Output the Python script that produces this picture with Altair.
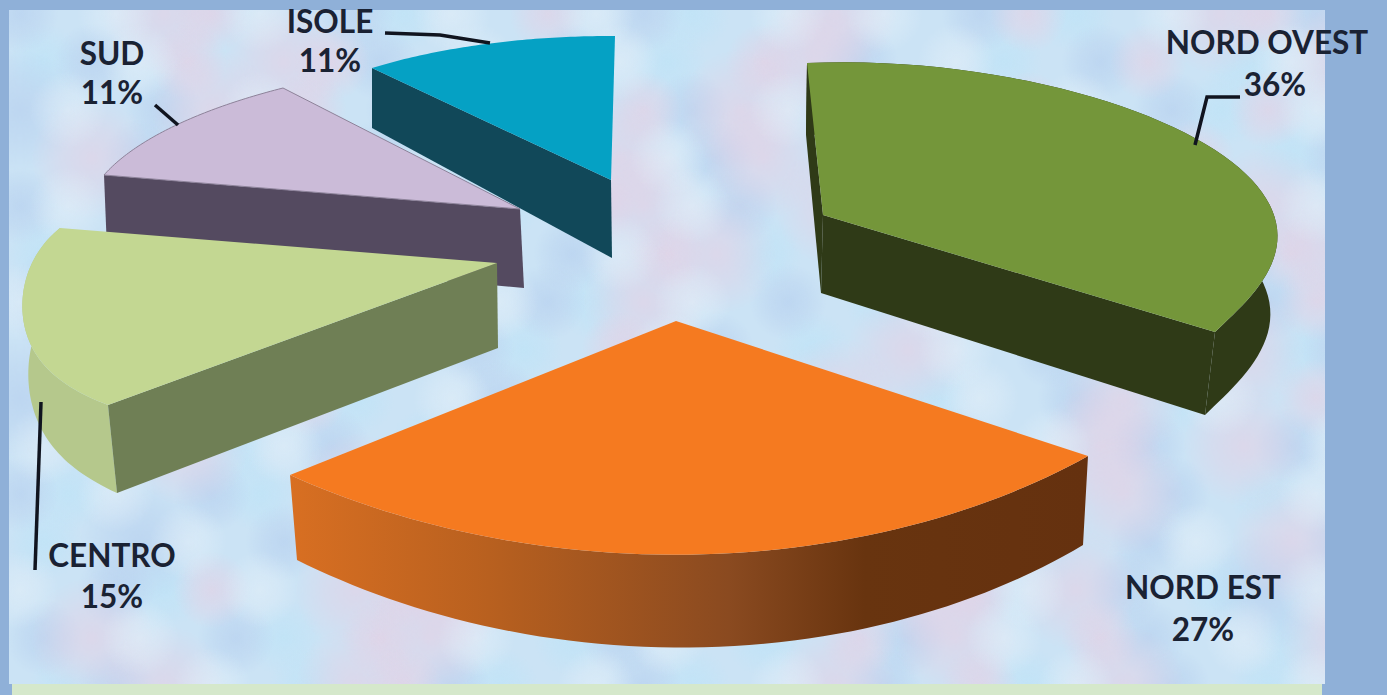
import numpy as np
import altair as alt

# Regional shares, in percent
regions = ["NORD OVEST", "NORD EST", "CENTRO", "SUD", "ISOLE"]
shares = [36, 27, 15, 11, 11]

W, H = 1387, 695

# Slice placement on the canvas: apex, arc ends, extrusion at those points
geometry = {
    "NORD OVEST": dict(p=(823, 215), a=(807, 63), b=(1215, 332), dp=(-2, 78), da=(-1, 72), db=(-10, 83), bulge=(0, 0)),
    "NORD EST": dict(p=(676, 321), a=(1088, 456), b=(290, 475), dp=(0, 85), da=(-5, 89), db=(7, 85), bulge=(0, 6)),
    "CENTRO": dict(p=(497, 263), a=(60, 228), b=(108, 405), dp=(1, 85), da=(4, 60), db=(9, 88), bulge=(0, 0)),
    "SUD": dict(p=(520, 209), a=(283, 88), b=(104, 175), dp=(4, 79), da=(3, 60), db=(3, 75), bulge=(0, 0)),
    "ISOLE": dict(p=(611, 180), a=(615, 36), b=(372, 68), dp=(1, 78), da=(0, 60), db=(0, 60), bulge=(0, 0)),
}
# Perspective correction of each arc: position along the arc, dx, dy
arc_warp = {
    "NORD OVEST": [(0, 0, 0), (0.25, -2, -9), (0.5, -22, -3), (0.8, -43, 0), (1, 0, 0)],
    "NORD EST": [(0, 0, 0), (0.25, 0, 10), (0.5, 0, 15), (0.75, 0, 9), (1, 0, 0)],
    "CENTRO": [(0, 0, 0), (0.25, -7, 0), (0.5, -9, 3), (0.75, -10, 3), (1, 0, 0)],
}
top_colors = dict(zip(regions, ["#74963a", "#f57a20", "#c3d792", "#cbbbd8", "#05a1c4"]))
face_colors = dict(zip(regions, ["#2f3a17", None, "#6f7f55", "#544a60", "#114859"]))
rim_colors = dict(zip(regions, ["#2f3a17", None, "#b5c88c", None, None]))
sliver_regions = ["NORD OVEST"]

label_pos = {
    "NORD OVEST": ((1267, 45), (1275, 87)),
    "NORD EST": ((1203, 590), (1203, 632)),
    "CENTRO": ((112, 558), (112, 599)),
    "SUD": ((112, 56), (112, 95)),
    "ISOLE": ((330, 24), (330, 63)),
}
leaders = [
    [(385, 33), (440, 35), (490, 43)],
    [(155, 105), (178, 125)],
    [(1240, 97), (1207, 97), (1195, 145)],
    [(41, 402), (35, 570)],
]

# Marbled backdrop, one letter per soft patch on a staggered 48 px lattice:
# p/P pink, b/B periwinkle, w/W white, c/C cyan; capitals are the larger patches
backdrop_rows = [
    "b.wPpw.bcw.pwbc.wPw.bpc.wPpb",
    "cbwp.Ppb.w.bwc.pPb.wc.bp.cwP",
    "Bw.bPwp.bc.w.pbPwc.b.pw.bcpw",
    ".Pbcw.pb.cw.PwbP.pcw.b.wp.cb",
    "bw.P.bcw.bc.pPwb.Pc.bw.cb.Pw",
    "c.bwP.bc.w.bwpPc.w.bp.wc.bpP",
    "wBc.pw.bc.wbcPw.b.cw.pb.w.bp",
    ".bw.cb.w.bc.pwb.c.Pw.bc.wPcb",
    "Bc.wb.pc.wb.cpw.bP.cw.bPcw.p",
    "w.bPcwb.cw.pcb.wc.pb.wPb.Pbw",
    "bcw.bc.Pw.bc.wb.Pw.cBw.Pb.cw",
    "c.Bw.b.cpPw.b.cw.bp.wc.bw.Pb",
    "w.bcpw.PpPbw.c.bwc.PpwPb.cBw",
    "bPw.bc.pPw.cbw.c.pbPw.pb.wcP",
    ".cbPw.cPpbc.wbc.wPb.pcwPb.cw",
]
patch_colors = {"p": "232,206,226", "b": "180,206,238", "w": "234,243,250", "c": "186,228,248"}
patch_lattice = 48


def backdrop_patches(letter):
    rows = []
    for r, line in enumerate(backdrop_rows):
        for c, ch in enumerate(line):
            if ch.lower() == letter:
                x = 20 + c * patch_lattice + (patch_lattice / 2 if r % 2 else 0)
                y = 14 + r * patch_lattice
                rows.append({"x": x, "y": y, "s": 15000 if ch.isupper() else 6000})
    return rows


def arc_points(name, start, sweep, n=60):
    """Points of a slice's elliptical arc, with the sweep taken from its share."""
    g = geometry[name]
    p, a, b = map(np.array, (g["p"], g["a"], g["b"]))
    t0, t1 = np.radians(start), np.radians(start + sweep)
    basis = np.array([[np.cos(t0), np.sin(t0)], [np.cos(t1), np.sin(t1)]])
    u_v = np.linalg.solve(basis, np.vstack([a - p, b - p]))
    ts = np.linspace(t0, t1, n)
    arc = p + np.column_stack([np.cos(ts), np.sin(ts)]) @ u_v
    if name in arc_warp:
        anchors = np.array(arc_warp[name], dtype=float)
        s = np.linspace(0, 1, n)
        arc[:, 0] += np.polyval(np.polyfit(anchors[:, 0], anchors[:, 1], 4), s)
        arc[:, 1] += np.polyval(np.polyfit(anchors[:, 0], anchors[:, 2], 4), s)
    return arc


def feature(points):
    ring = [[float(x), float(y)] for x, y in points]
    ring.append(ring[0])
    return {"type": "Feature", "properties": {}, "geometry": {"type": "Polygon", "coordinates": [ring]}}


def line_feature(points):
    return {"type": "Feature", "properties": {},
            "geometry": {"type": "LineString", "coordinates": [[float(x), float(y)] for x, y in points]}}


def flat(chart):
    # Identity projection: coordinates are canvas pixels
    return chart.project(type="identity", scale=1, translate=[0, 0])


def shape(points, **mark):
    mark.setdefault("strokeWidth", 0)
    return flat(alt.Chart(alt.Data(values=[feature(points)])).mark_geoshape(**mark))


def patches(letter, alpha):
    rgb = patch_colors[letter]
    fill = alt.RadialGradient(gradient="radial", stops=[
        alt.GradientStop(color=f"rgba({rgb},{alpha})", offset=0),
        alt.GradientStop(color=f"rgba({rgb},{alpha * 0.6})", offset=0.5),
        alt.GradientStop(color=f"rgba({rgb},0)", offset=1),
    ])
    return flat(
        alt.Chart(alt.Data(values=backdrop_patches(letter)))
        .mark_point(filled=True, fill=fill, opacity=1, strokeWidth=0, shape="circle")
        .encode(longitude="x:Q", latitude="y:Q", size=alt.Size("s:Q", scale=None, legend=None))
    )


frame = "#8fb0d8"
layers = [
    shape([(9, 10), (1325, 10), (1325, 684), (9, 684)], fill="#cbe3f5"),
    patches("c", 0.55),
    patches("b", 0.6),
    patches("p", 0.55),
    patches("w", 0.45),
    # The frame is drawn after the patches so that it trims them
    shape([(0, 0), (W, 0), (W, 10), (0, 10)], fill=frame),
    shape([(0, 0), (9, 0), (9, H), (0, H)], fill=frame),
    shape([(1325, 0), (W, 0), (W, H), (1325, H)], fill=frame),
    shape([(0, 684), (W, 684), (W, H), (0, H)], fill=frame),
    shape([(12, 684), (1322, 684), (1322, 695), (12, 695)], fill="#d5e8cb"),
]

# Slices are stacked back to front
start_angles = dict(zip(regions, np.cumsum([0] + shares[:-1]) * 3.6))
tops = {}
for name, share in zip(regions, shares):
    tops[name] = arc_points(name, start_angles[name], share * 3.6)

order = ["ISOLE", "SUD", "CENTRO", "NORD OVEST", "NORD EST"]
for name in order:
    g = geometry[name]
    arc = tops[name]
    p, a, b = map(np.array, (g["p"], g["a"], g["b"]))
    dp, da, db = map(np.array, (g["dp"], g["da"], g["db"]))
    s = np.linspace(0, 1, len(arc))[:, None]
    lower = arc + da + (db - da) * s + np.array(g["bulge"]) * np.sin(np.pi * s)
    rim = np.vstack([arc, lower[::-1]])
    if name == "NORD EST":
        fill = alt.LinearGradient(gradient="linear", x1=0, x2=1, y1=0, y2=0, stops=[
            alt.GradientStop(color="#d86f22", offset=0),
            alt.GradientStop(color="#b8601f", offset=0.25),
            alt.GradientStop(color="#8a4a20", offset=0.55),
            alt.GradientStop(color="#68340f", offset=0.72),
            alt.GradientStop(color="#65310f", offset=1),
        ])
        layers.append(shape(rim, fill=fill))
    elif rim_colors[name]:
        layers.append(shape(rim, fill=rim_colors[name]))
    if face_colors[name]:
        layers.append(shape([p, b, b + db, p + dp], fill=face_colors[name]))
    if name in sliver_regions:
        layers.append(shape([a, p, p + dp, a + da], fill=face_colors[name]))
    edge = {"stroke": "#8d8299", "strokeWidth": 1} if name == "SUD" else {}
    layers.append(shape([p, *arc], fill=top_colors[name], **edge))

# Leader lines
layers.append(flat(
    alt.Chart(alt.Data(values=[line_feature(l) for l in leaders]))
    .mark_geoshape(filled=False, stroke="#10141f", strokeWidth=3.5)
))

# Region names and percentages
text_rows = []
for name, share in zip(regions, shares):
    (nx, ny), (vx, vy) = label_pos[name]
    text_rows.append({"x": nx, "y": ny, "t": name})
    text_rows.append({"x": vx, "y": vy, "t": f"{share}%"})
layers.append(flat(
    alt.Chart(alt.Data(values=text_rows))
    .mark_text(font="Lato", fontWeight="bold", fontSize=31.5, color="#1a2233", align="center", baseline="middle")
    .encode(longitude="x:Q", latitude="y:Q", text="t:N")
))

chart = (
    alt.layer(*layers)
    .properties(width=W, height=H, background=frame, padding=0, autosize="none")
    .configure_view(stroke=None)
)
chart.save("out.html", embed_options={"renderer": "svg", "actions": False})
